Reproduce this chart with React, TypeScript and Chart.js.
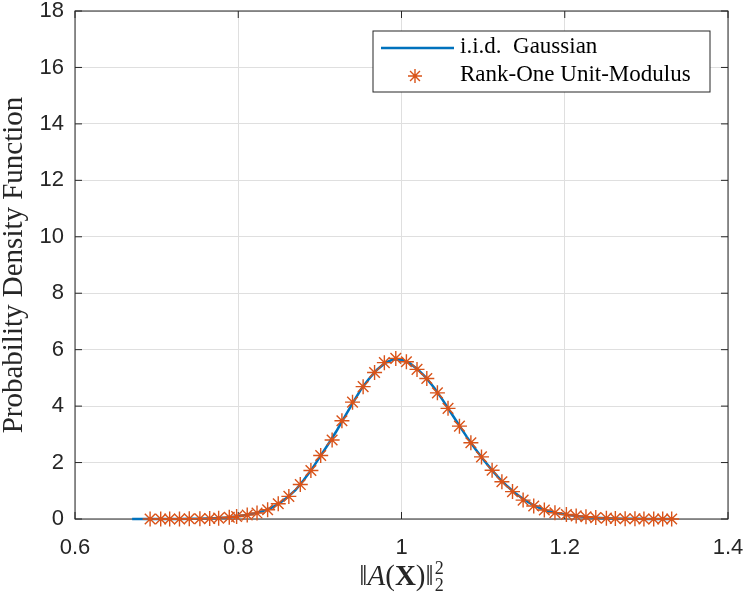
import { useEffect, useRef } from "react";
import { Chart, registerables } from "chart.js";

Chart.register(...registerables);

// histogram estimate (stars)
const markerX = [
  0.692, 0.705, 0.716, 0.728, 0.74, 0.753, 0.765, 0.776, 0.789, 0.798,
  0.811, 0.823, 0.836, 0.849, 0.862, 0.876, 0.889, 0.901, 0.915, 0.927,
  0.94, 0.953, 0.967, 0.979, 0.993, 1.006, 1.019, 1.031, 1.044, 1.057,
  1.071, 1.085, 1.098, 1.111, 1.123, 1.136, 1.149, 1.162, 1.175, 1.188,
  1.202, 1.214, 1.226, 1.238, 1.251, 1.262, 1.274, 1.286, 1.297, 1.309,
  1.32, 1.331,
];
const markerY = [
  0, 0, 0, 0, 0.01, 0.01, 0.02, 0.03, 0.06, 0.09,
  0.14, 0.21, 0.33, 0.54, 0.8, 1.22, 1.72, 2.25, 2.8, 3.48,
  4.14, 4.69, 5.19, 5.54, 5.69, 5.57, 5.3, 4.98, 4.47, 3.92,
  3.29, 2.7, 2.2, 1.73, 1.32, 0.97, 0.67, 0.46, 0.32, 0.22,
  0.16, 0.11, 0.08, 0.05, 0.03, 0.02, 0.01, 0.01, 0, 0,
  0, 0,
];

// theoretical curve (line)
const curveX = [
  0.67, 0.68, 0.69, 0.7, 0.71, 0.72, 0.73, 0.74, 0.75, 0.76,
  0.77, 0.78, 0.79, 0.8, 0.81, 0.82, 0.83, 0.84, 0.85, 0.86,
  0.87, 0.88, 0.89, 0.9, 0.91, 0.92, 0.93, 0.94, 0.95, 0.96,
  0.97, 0.98, 0.99, 1.0, 1.01, 1.02, 1.03, 1.04, 1.05, 1.06,
  1.07, 1.08, 1.09, 1.1, 1.11, 1.12, 1.13, 1.14, 1.15, 1.16,
  1.17, 1.18, 1.19, 1.2, 1.21, 1.22, 1.23, 1.24, 1.25, 1.26,
  1.27, 1.28, 1.29, 1.3, 1.31, 1.32, 1.33,
];
const curveY = [
  0, 0, 0, 0, 0, 0, 0, 0.005, 0.01, 0.015,
  0.025, 0.04, 0.065, 0.1, 0.14, 0.2, 0.28, 0.39, 0.55, 0.76,
  1.02, 1.37, 1.76, 2.2, 2.64, 3.1, 3.6, 4.1, 4.58, 4.96,
  5.29, 5.53, 5.66, 5.64, 5.52, 5.3, 5.01, 4.65, 4.24, 3.79,
  3.35, 2.91, 2.5, 2.12, 1.76, 1.43, 1.15, 0.9, 0.69, 0.52,
  0.38, 0.28, 0.21, 0.16, 0.12, 0.09, 0.065, 0.045, 0.03, 0.02,
  0.013, 0.008, 0.005, 0.003, 0.002, 0.001, 0,
];

const xTicks = [0.6, 0.8, 1, 1.2, 1.4];
const yTicks = [0, 2, 4, 6, 8, 10, 12, 14, 16, 18];

const seriesNames = ["i.i.d. Gaussian", "Rank-One Unit-Modulus"];

const AXIS = "#262626";
const BLUE = "#0072BD";
const ORANGE = "#D95319";
const SERIF = "'Liberation Serif', 'Times New Roman', serif";
const SANS = "'Liberation Sans', Arial, sans-serif";

function drawStar(ctx: CanvasRenderingContext2D, x: number, y: number, r: number) {
  ctx.beginPath();
  for (let i = 0; i < 4; i++) {
    const a = (i * Math.PI) / 4;
    ctx.moveTo(x - Math.cos(a) * r, y - Math.sin(a) * r);
    ctx.lineTo(x + Math.cos(a) * r, y + Math.sin(a) * r);
  }
  ctx.stroke();
}

const framePlugin = {
  id: "frame",
  beforeDatasetsDraw(chart: any) {
    const { ctx, chartArea: a, scales } = chart;
    ctx.save();
    ctx.strokeStyle = AXIS;
    ctx.lineWidth = 1;
    ctx.strokeRect(a.left, a.top, a.right - a.left, a.bottom - a.top);
    ctx.beginPath();
    xTicks.forEach((v) => {
      const px = scales.x.getPixelForValue(v);
      ctx.moveTo(px, a.bottom);
      ctx.lineTo(px, a.bottom - 7);
      ctx.moveTo(px, a.top);
      ctx.lineTo(px, a.top + 7);
    });
    yTicks.forEach((v) => {
      const py = scales.y.getPixelForValue(v);
      ctx.moveTo(a.left, py);
      ctx.lineTo(a.left + 7, py);
      ctx.moveTo(a.right, py);
      ctx.lineTo(a.right - 7, py);
    });
    ctx.stroke();
    ctx.restore();
  },
  afterDraw(chart: any) {
    const { ctx, chartArea: a } = chart;
    ctx.save();
    ctx.fillStyle = AXIS;

    // y title
    ctx.save();
    ctx.translate(14, (a.top + a.bottom) / 2);
    ctx.rotate(-Math.PI / 2);
    ctx.font = `29px ${SERIF}`;
    ctx.textAlign = "center";
    ctx.textBaseline = "middle";
    ctx.fillText("Probability Density Function", 0, 0);
    ctx.restore();

    // x title: ||A(X)||_2^2
    const pieces = [
      { t: "\u2016", f: `29px ${SERIF}` },
      { t: "A", f: `italic 29px ${SERIF}` },
      { t: "(", f: `29px ${SERIF}` },
      { t: "X", f: `bold 29px ${SERIF}` },
      { t: ")", f: `29px ${SERIF}` },
      { t: "\u2016", f: `29px ${SERIF}` },
    ];
    let total = 0;
    pieces.forEach((p) => {
      ctx.font = p.f;
      total += ctx.measureText(p.t).width;
    });
    ctx.font = `18px ${SERIF}`;
    const scriptW = ctx.measureText("2").width;
    total += scriptW + 1;
    let cx = (a.left + a.right) / 2 - total / 2;
    const base = 585;
    ctx.textBaseline = "alphabetic";
    ctx.textAlign = "left";
    pieces.forEach((p) => {
      ctx.font = p.f;
      ctx.fillText(p.t, cx, base);
      cx += ctx.measureText(p.t).width;
    });
    ctx.font = `18px ${SERIF}`;
    ctx.fillText("2", cx + 1, base - 11);
    ctx.fillText("2", cx + 1, base + 6);

    // legend
    const bx = a.right - 355;
    const by = a.top + 20;
    const bw = 337;
    const bh = 61;
    ctx.fillStyle = "#ffffff";
    ctx.fillRect(bx, by, bw, bh);
    ctx.strokeStyle = AXIS;
    ctx.lineWidth = 1;
    ctx.strokeRect(bx, by, bw, bh);
    ctx.strokeStyle = BLUE;
    ctx.lineWidth = 2.5;
    ctx.beginPath();
    ctx.moveTo(bx + 8, by + 17);
    ctx.lineTo(bx + 81, by + 17);
    ctx.stroke();
    ctx.strokeStyle = ORANGE;
    ctx.lineWidth = 1.4;
    drawStar(ctx, bx + 42, by + 45, 7);
    ctx.fillStyle = "#000000";
    ctx.font = `23px ${SERIF}`;
    ctx.textBaseline = "middle";
    ctx.fillText(seriesNames[0].replace(". ", ".  "), bx + 87, by + 16);
    ctx.fillText(seriesNames[1], bx + 87, by + 44);
    ctx.restore();
  },
};

export default function App() {
  const canvasRef = useRef<HTMLCanvasElement>(null);
  const chartRef = useRef<Chart | null>(null);

  useEffect(() => {
    document.body.style.margin = "0";
    if (!canvasRef.current) return;
    const ctx = canvasRef.current.getContext("2d");
    if (!ctx) return;

    chartRef.current = new Chart(ctx, {
      type: "scatter",
      data: {
        datasets: [
          {
            label: seriesNames[1],
            data: markerX.map((x, i) => ({ x, y: markerY[i] })),
            showLine: false,
            pointStyle: "star",
            pointRadius: 7.5,
            pointBorderWidth: 1.4,
            pointBorderColor: ORANGE,
            pointBackgroundColor: ORANGE,
            clip: false,
          },
          {
            label: seriesNames[0],
            data: curveX.map((x, i) => ({ x, y: curveY[i] })),
            showLine: true,
            borderColor: BLUE,
            borderWidth: 2.5,
            pointRadius: 0,
            tension: 0,
            clip: false,
          },
        ],
      },
      options: {
        responsive: false,
        animation: false,
        layout: { padding: { top: 11, right: 19, left: 0, bottom: 0 } },
        plugins: {
          legend: { display: false },
          tooltip: { enabled: false },
        },
        scales: {
          x: {
            type: "linear",
            min: 0.6,
            max: 1.4,
            afterBuildTicks: (s: any) => {
              s.ticks = xTicks.map((value) => ({ value }));
            },
            afterFit: (s: any) => {
              s.height = 75;
              s.paddingLeft = 0;
              s.paddingRight = 0;
            },
            border: { display: false },
            grid: { color: "#dfdfdf", drawTicks: false },
            ticks: {
              color: AXIS,
              padding: 16,
              maxRotation: 0,
              font: { family: SANS, size: 22 },
              callback: (v: any) => String(Number(Number(v).toFixed(1))),
            },
          },
          y: {
            type: "linear",
            min: 0,
            max: 18,
            afterBuildTicks: (s: any) => {
              s.ticks = yTicks.map((value) => ({ value }));
            },
            afterFit: (s: any) => {
              s.width = 75;
              s.paddingTop = 0;
              s.paddingBottom = 0;
            },
            border: { display: false },
            grid: { color: "#dfdfdf", drawTicks: false },
            ticks: {
              color: AXIS,
              padding: 11,
              font: { family: SANS, size: 22 },
            },
          },
        },
      },
      plugins: [framePlugin],
    });

    return () => {
      if (chartRef.current) {
        chartRef.current.destroy();
        chartRef.current = null;
      }
    };
  }, []);

  return (
    <div style={{ width: 747, height: 594 }}>
      <canvas ref={canvasRef} width={747} height={594} />
    </div>
  );
}
